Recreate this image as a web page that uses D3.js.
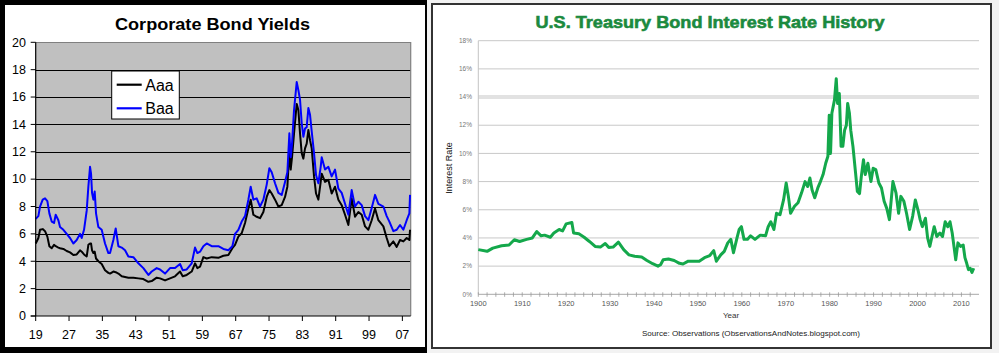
<!DOCTYPE html>
<html><head><meta charset="utf-8">
<script src="https://cdn.jsdelivr.net/npm/d3@7"></script>
<style>body{margin:0;background:#f2f2f2;} svg{display:block}</style>
</head><body><svg id="c" width="999" height="353"></svg>
<script>
// ---------- Left chart data: Corporate Bond Yields (Moody's Aaa / Baa) ----------
const corpYears = [1919.0,1919.64,1920.04,1920.68,1921.24,1921.8,1922.28,1922.84,1923.4,1923.8,1924.44,1924.84,1925.64,1926.44,1927.24,1928.04,1928.84,1929.64,1930.04,1930.6,1931.24,1931.64,1932.04,1932.28,1932.52,1932.84,1933.16,1933.48,1934.04,1934.84,1935.64,1936.44,1936.84,1937.64,1938.2,1938.84,1939.64,1940.44,1941.24,1942.44,1943.64,1944.84,1946.04,1946.84,1948.04,1948.84,1950.04,1951.24,1952.44,1953.64,1954.28,1955.24,1956.44,1957.24,1957.8,1958.44,1959.24,1960.04,1961.24,1962.84,1964.04,1965.24,1966.2,1966.84,1967.64,1968.44,1969.24,1970.04,1970.6,1971.24,1972.04,1972.84,1973.64,1974.44,1975.08,1975.64,1976.44,1977.24,1978.04,1978.84,1979.4,1979.88,1980.2,1980.52,1981.0,1981.64,1982.04,1982.44,1982.84,1983.24,1983.64,1984.04,1984.44,1984.84,1985.24,1985.8,1986.28,1986.84,1987.4,1987.64,1988.44,1989.24,1990.04,1990.84,1991.64,1992.44,1993.24,1994.04,1994.84,1995.64,1996.44,1997.24,1998.04,1998.84,1999.64,2000.44,2001.24,2002.44,2003.24,2003.88,2004.84,2005.64,2006.44,2007.24,2008.04,2008.68,2008.84];
const baaValues = [7.1,7.3,8.0,8.5,8.6,8.4,7.5,6.9,6.8,7.4,7.0,6.5,6.3,6.0,5.7,5.3,5.55,6.0,5.7,6.3,7.7,9.45,10.9,10.4,9.0,8.5,9.1,7.5,6.5,6.3,5.3,4.6,4.6,5.55,6.4,5.1,5.0,4.8,4.35,4.3,3.85,3.5,3.0,3.25,3.5,3.4,3.1,3.5,3.5,3.8,3.35,3.4,3.85,5.0,4.6,4.7,5.1,5.3,5.1,5.1,4.9,4.8,5.1,6.0,6.3,6.9,7.3,8.5,9.45,8.5,8.6,8.0,8.5,9.6,10.8,10.5,9.7,9.0,8.85,9.8,10.5,13.35,11.6,12.6,15.05,17.1,16.5,15.8,14.1,13.1,13.7,13.8,15.2,14.7,13.5,11.9,10.3,9.7,10.9,11.6,10.7,10.9,10.2,10.7,9.3,9.0,8.2,7.4,9.2,8.0,8.35,8.1,7.3,7.0,7.9,8.85,8.2,8.0,7.3,6.9,6.2,6.3,6.65,6.3,7.0,7.5,8.85];
const aaaValues = [5.3,5.7,6.3,6.35,6.2,5.8,5.1,4.95,5.2,5.1,5.0,4.95,4.9,4.75,4.65,4.45,4.5,4.8,4.7,4.5,4.35,5.2,5.3,5.3,4.8,4.6,4.7,4.2,4.0,3.8,3.35,3.15,3.1,3.25,3.2,3.1,2.9,2.85,2.8,2.8,2.75,2.7,2.5,2.55,2.8,2.75,2.6,2.75,2.9,3.25,2.9,3.0,3.25,3.85,3.5,3.6,4.3,4.2,4.3,4.25,4.4,4.45,4.95,5.2,5.8,6.05,6.8,7.85,8.5,7.4,7.25,7.15,7.6,8.7,9.2,8.95,8.5,8.0,8.1,8.7,9.45,12.1,10.7,11.6,13.35,15.5,15.05,13.35,11.9,11.5,12.25,12.6,13.6,12.85,12.25,10.2,8.95,8.5,9.8,10.4,9.8,9.95,8.95,9.45,8.5,8.1,7.4,6.65,8.6,7.25,7.6,7.4,6.55,6.3,7.0,7.85,7.0,6.55,5.7,5.1,5.45,5.05,5.55,5.45,5.7,5.55,6.3];
const corpTickYears = [1919,1927,1935,1943,1951,1959,1967,1975,1983,1991,1999,2007];
const corpTickLabels = ["19","27","35","43","51","59","67","75","83","91","99","07"];
const corpYTicks = [0,2,4,6,8,10,12,14,16,18,20];
const corpSeriesNames = ["Aaa","Baa"];

// ---------- Right chart data: U.S. Treasury Bond Interest Rate History ----------
const tsyYears = [1900,1902,1903.3,1905.3,1907,1908.2,1909.4,1911,1912.3,1913.3,1914.3,1915.1,1916.4,1917.2,1918.4,1919.2,1920,1921.3,1921.7,1922.9,1924.1,1925.3,1926.6,1927.8,1928.9,1929.7,1930.7,1931.9,1933.1,1934.3,1935.6,1937.2,1938.4,1939.7,1940.9,1941.5,1942.1,1943.3,1944.6,1945.8,1946.6,1947.8,1949.1,1950.3,1951.5,1952.7,1953.6,1954.2,1955.2,1956,1956.8,1957.5,1958.1,1958.9,1959.4,1959.9,1960.5,1961.3,1962,1963,1964.2,1965.4,1966,1966.6,1967.3,1967.9,1968.7,1969.5,1970.1,1970.6,1971.1,1972,1972.8,1973.6,1974.4,1975,1975.5,1976,1976.6,1977.3,1977.9,1978.5,1979.1,1979.6,1979.9,1980.2,1980.5,1981.1,1981.5,1981.8,1982.2,1982.6,1983,1983.4,1983.8,1984.1,1984.5,1984.8,1985.3,1985.9,1986.3,1986.8,1987.2,1987.7,1988.1,1988.7,1989.4,1989.9,1990.5,1991.2,1991.8,1992.4,1993,1993.6,1994.4,1995.1,1995.7,1996.2,1996.9,1997.5,1998.2,1998.9,1999.5,2000.1,2000.6,2001.1,2001.8,2002.3,2002.8,2003.3,2003.8,2004.4,2005.1,2005.7,2006.3,2006.9,2007.4,2007.9,2008.3,2008.7,2009.2,2009.8,2010.4,2010.8,2011.2,2011.6,2012,2012.4,2012.8];
const tsyRates = [3.17,3.05,3.28,3.45,3.5,3.87,3.75,3.9,4.0,4.45,4.15,4.2,4.05,4.35,4.6,4.5,5.0,5.1,4.35,4.3,4.05,3.75,3.4,3.35,3.6,3.33,3.35,3.7,3.17,2.8,2.7,2.65,2.4,2.17,2.0,2.1,2.45,2.5,2.4,2.2,2.15,2.35,2.35,2.35,2.6,2.75,3.1,2.35,2.8,3.05,3.65,3.9,2.95,4.0,4.6,4.8,3.9,3.9,4.15,3.9,4.2,4.15,4.8,5.15,4.6,5.75,5.65,6.7,7.9,6.95,5.75,6.25,6.5,7.2,8.0,7.65,8.25,7.4,6.85,7.55,8.0,8.5,9.3,9.8,12.7,10.0,12.85,13.8,15.3,13.55,14.25,10.5,10.5,11.65,12.0,13.55,12.85,11.65,10.5,8.6,7.3,7.15,8.35,9.55,8.5,9.3,8.0,8.95,8.85,7.9,7.55,6.6,6.1,5.3,8.0,7.2,5.75,6.95,6.6,5.75,4.6,5.55,6.7,6.0,5.3,4.8,5.4,4.0,3.4,4.1,4.8,4.1,4.35,4.1,5.15,4.8,5.15,4.35,3.4,2.45,3.65,3.4,3.5,2.6,2.2,1.75,1.85,1.55,1.85];
const tsyXTicks = [1900,1910,1920,1930,1940,1950,1960,1970,1980,1990,2000,2010];
const tsyYTicks = [0,2,4,6,8,10,12,14,16,18];

const FONT = "'Liberation Sans', Arial, sans-serif";
const svg = d3.select("#c");

// ======================= LEFT CHART =======================
svg.append("rect").attr("x",0).attr("y",0).attr("width",427).attr("height",353).attr("fill","#000");
svg.append("rect").attr("x",5).attr("y",5).attr("width",420).attr("height",342).attr("fill","#fff");

const L = {l:35.7, r:410.7, t:42.3, b:316};
const xL = d3.scaleLinear().domain([1919, 2009]).range([L.l, L.r]);
const yL = d3.scaleLinear().domain([0, 20]).range([L.b, L.t]);
const gL = svg.append("g");

gL.append("rect").attr("x",L.l).attr("y",L.t).attr("width",L.r-L.l).attr("height",L.b-L.t).attr("fill","#c0c0c0");
gL.selectAll("line.grid").data(corpYTicks.filter(d=>d>0 && d<20)).enter().append("line")
  .attr("x1",L.l).attr("x2",L.r).attr("y1",d=>Math.round(yL(d))+0.5).attr("y2",d=>Math.round(yL(d))+0.5)
  .attr("stroke","#000").attr("stroke-width",1);
gL.append("path").attr("d",`M${L.l},${Math.round(L.t)+0.5}H${L.r}V${L.b}`).attr("fill","none").attr("stroke","#808080").attr("stroke-width",1.2);

const lineL = d3.line().x((d,i)=>xL(corpYears[i])).y(d=>yL(d));
gL.append("path").datum(aaaValues).attr("d",lineL).attr("fill","none").attr("stroke","#000").attr("stroke-width",2).attr("stroke-linejoin","round");
gL.append("path").datum(baaValues).attr("d",lineL).attr("fill","none").attr("stroke","#0000ff").attr("stroke-width",2).attr("stroke-linejoin","round");

gL.append("line").attr("x1",L.l).attr("x2",L.l).attr("y1",L.t).attr("y2",L.b).attr("stroke","#000").attr("stroke-width",1.2);
gL.append("line").attr("x1",L.l-5).attr("x2",L.r).attr("y1",L.b).attr("y2",L.b).attr("stroke","#000").attr("stroke-width",1.2);
gL.selectAll("line.yt").data(corpYTicks).enter().append("line")
  .attr("x1",L.l-5).attr("x2",L.l).attr("y1",d=>yL(d)).attr("y2",d=>yL(d)).attr("stroke","#000");
gL.selectAll("text.yl").data(corpYTicks).enter().append("text")
  .attr("x",26).attr("y",d=>yL(d)+4.3).attr("text-anchor","end")
  .attr("font-family",FONT).attr("font-size",12.5).attr("fill","#000").text(d=>d);
gL.selectAll("line.xt").data(corpTickYears).enter().append("line")
  .attr("x1",d=>xL(d)).attr("x2",d=>xL(d)).attr("y1",L.b).attr("y2",L.b+5).attr("stroke","#000");
gL.selectAll("text.xl").data(corpTickYears).enter().append("text")
  .attr("x",d=>xL(d)).attr("y",339.3).attr("text-anchor","middle")
  .attr("font-family",FONT).attr("font-size",12.5).attr("fill","#000").text((d,i)=>corpTickLabels[i]);
svg.append("text").attr("x",212.5).attr("y",29.5).attr("text-anchor","middle")
  .attr("font-family",FONT).attr("font-weight","bold").attr("font-size",16).attr("fill","#000")
  .attr("textLength",195).attr("lengthAdjust","spacingAndGlyphs")
  .text("Corporate Bond Yields");
const leg = svg.append("g");
leg.append("rect").attr("x",111.7).attr("y",71).attr("width",67.6).attr("height",48).attr("fill","#fff").attr("stroke","#000").attr("stroke-width",1);
const legColors = ["#000","#0000ff"];
corpSeriesNames.forEach((n,i)=>{
  const yy = 84.7 + i*23.6;
  leg.append("line").attr("x1",116.7).attr("x2",141.7).attr("y1",yy).attr("y2",yy).attr("stroke",legColors[i]).attr("stroke-width",2.2);
  leg.append("text").attr("x",145.3).attr("y",yy+5.8).attr("font-family",FONT).attr("font-size",16).attr("fill","#000").text(n);
});

// ======================= RIGHT CHART =======================
svg.append("rect").attr("x",432).attr("y",4).attr("width",559).attr("height",344).attr("fill","#fff").attr("stroke","#333").attr("stroke-width",2);

const R = {l:478.3, r:979, t:40.7, b:294.3};
const xR = d3.scaleLinear().domain([1900, 2014]).range([R.l, R.r]);
const yR = d3.scaleLinear().domain([0, 18]).range([R.b, R.t]);
const gR = svg.append("g");

gR.selectAll("line.grid").data(tsyYTicks.filter(d=>d>0)).enter().append("line")
  .attr("x1",R.l).attr("x2",R.r).attr("y1",d=>yR(d)).attr("y2",d=>yR(d))
  .attr("stroke",d=>d===14?"#e2e2e2":"#c8c8c8").attr("stroke-width",d=>d===14?4:1);
gR.append("line").attr("x1",R.l).attr("x2",R.l).attr("y1",R.t).attr("y2",R.b).attr("stroke","#c4c4c4");
gR.append("line").attr("x1",R.l).attr("x2",R.r).attr("y1",R.b).attr("y2",R.b).attr("stroke","#a8a8a8");
const minorTicks = d3.range(1900, 2014, 2);
gR.selectAll("line.mt").data(minorTicks).enter().append("line")
  .attr("x1",d=>xR(d)).attr("x2",d=>xR(d)).attr("y1",R.b-2).attr("y2",R.b+2.5).attr("stroke","#999").attr("stroke-width",0.8);

gR.selectAll("text.yl").data(tsyYTicks).enter().append("text")
  .attr("x",472).attr("y",d=>yR(d)+2.2).attr("text-anchor","end")
  .attr("font-family",FONT).attr("font-size",6.5).attr("fill","#777").text(d=>d+"%");
gR.selectAll("text.xl").data(tsyXTicks).enter().append("text")
  .attr("x",d=>xR(d)).attr("y",306).attr("text-anchor","middle")
  .attr("font-family",FONT).attr("font-size",7.5).attr("fill","#555").text(d=>d);

const lineR = d3.line().x((d,i)=>xR(tsyYears[i])).y(d=>yR(d));
gR.append("path").datum(tsyRates).attr("d",lineR).attr("fill","none").attr("stroke","#14a84b").attr("stroke-width",3).attr("stroke-linejoin","round");

svg.append("text").attr("x",710).attr("y",28).attr("text-anchor","middle")
  .attr("font-family",FONT).attr("font-weight","bold").attr("font-size",17).attr("fill","#1b8a3e")
  .attr("stroke","#1b8a3e").attr("stroke-width",0.6)
  .attr("textLength",349).attr("lengthAdjust","spacingAndGlyphs")
  .text("U.S. Treasury Bond Interest Rate History");
svg.append("text").attr("x",731).attr("y",318).attr("text-anchor","middle")
  .attr("font-family",FONT).attr("font-size",8).attr("fill","#333").text("Year");
svg.append("text").attr("transform","translate(452,168) rotate(-90)").attr("text-anchor","middle")
  .attr("font-family",FONT).attr("font-size",9).attr("fill","#111").text("Interest Rate");
svg.append("text").attr("x",751).attr("y",336).attr("text-anchor","middle")
  .attr("font-family",FONT).attr("font-size",8).attr("fill","#222")
  .attr("textLength",218).attr("lengthAdjust","spacingAndGlyphs")
  .text("Source: Observations   (ObservationsAndNotes.blogspot.com)");
</script></body></html>
